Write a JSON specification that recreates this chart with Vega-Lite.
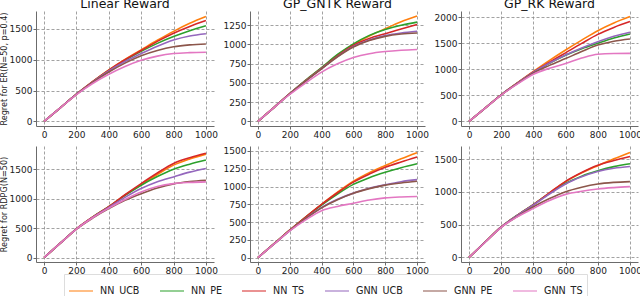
{
"$schema":"https://vega.github.io/schema/vega-lite/v6.json",
"padding":{"left":0,"top":-3,"right":0,"bottom":0},
"background":"white",
"config":{
 "font":"DejaVu Sans",
 "view":{"stroke":null},
 "axis":{"domainColor":"#6b6b6b","tickColor":"#6b6b6b","tickSize":3,"gridColor":"#8a8a8a","gridDash":[3,2],"gridWidth":0.8,"labelFont":"DejaVu Sans","labelFontSize":9,"labelColor":"#222222","titleFont":"DejaVu Sans","titleFontSize":10,"titleFontWeight":"normal","titleColor":"#222222","labelPadding":1,"format":"d"},
 "axisY":{"titleFontSize":8.1,"titlePadding":1},
 "title":{"font":"DejaVu Sans","fontSize":12.5,"fontWeight":"normal","color":"#111111","offset":1},
 "legend":{"labelFont":"DejaVu Sans","labelFontSize":9.6,"labelColor":"#222222"}
},
"data":{"values":[
{"panel":"L_ER","algo":"NN_UCB","t":0,"regret":0},{"panel":"L_ER","algo":"NN_UCB","t":100,"regret":220},{"panel":"L_ER","algo":"NN_UCB","t":200,"regret":440},{"panel":"L_ER","algo":"NN_UCB","t":300,"regret":645},{"panel":"L_ER","algo":"NN_UCB","t":400,"regret":835},{"panel":"L_ER","algo":"NN_UCB","t":500,"regret":1005},{"panel":"L_ER","algo":"NN_UCB","t":600,"regret":1160},{"panel":"L_ER","algo":"NN_UCB","t":700,"regret":1315},{"panel":"L_ER","algo":"NN_UCB","t":800,"regret":1460},{"panel":"L_ER","algo":"NN_UCB","t":900,"regret":1590},{"panel":"L_ER","algo":"NN_UCB","t":1000,"regret":1700},
{"panel":"L_ER","algo":"NN_PE","t":0,"regret":0},{"panel":"L_ER","algo":"NN_PE","t":100,"regret":220},{"panel":"L_ER","algo":"NN_PE","t":200,"regret":440},{"panel":"L_ER","algo":"NN_PE","t":300,"regret":642},{"panel":"L_ER","algo":"NN_PE","t":400,"regret":828},{"panel":"L_ER","algo":"NN_PE","t":500,"regret":990},{"panel":"L_ER","algo":"NN_PE","t":600,"regret":1135},{"panel":"L_ER","algo":"NN_PE","t":700,"regret":1265},{"panel":"L_ER","algo":"NN_PE","t":800,"regret":1375},{"panel":"L_ER","algo":"NN_PE","t":900,"regret":1470},{"panel":"L_ER","algo":"NN_PE","t":1000,"regret":1550},
{"panel":"L_ER","algo":"NN_TS","t":0,"regret":0},{"panel":"L_ER","algo":"NN_TS","t":100,"regret":220},{"panel":"L_ER","algo":"NN_TS","t":200,"regret":440},{"panel":"L_ER","algo":"NN_TS","t":300,"regret":644},{"panel":"L_ER","algo":"NN_TS","t":400,"regret":832},{"panel":"L_ER","algo":"NN_TS","t":500,"regret":1000},{"panel":"L_ER","algo":"NN_TS","t":600,"regret":1150},{"panel":"L_ER","algo":"NN_TS","t":700,"regret":1298},{"panel":"L_ER","algo":"NN_TS","t":800,"regret":1430},{"panel":"L_ER","algo":"NN_TS","t":900,"regret":1540},{"panel":"L_ER","algo":"NN_TS","t":1000,"regret":1635},
{"panel":"L_ER","algo":"GNN_UCB","t":0,"regret":0},{"panel":"L_ER","algo":"GNN_UCB","t":100,"regret":220},{"panel":"L_ER","algo":"GNN_UCB","t":200,"regret":440},{"panel":"L_ER","algo":"GNN_UCB","t":300,"regret":638},{"panel":"L_ER","algo":"GNN_UCB","t":400,"regret":818},{"panel":"L_ER","algo":"GNN_UCB","t":500,"regret":970},{"panel":"L_ER","algo":"GNN_UCB","t":600,"regret":1100},{"panel":"L_ER","algo":"GNN_UCB","t":700,"regret":1220},{"panel":"L_ER","algo":"GNN_UCB","t":800,"regret":1320},{"panel":"L_ER","algo":"GNN_UCB","t":900,"regret":1385},{"panel":"L_ER","algo":"GNN_UCB","t":1000,"regret":1422},
{"panel":"L_ER","algo":"GNN_PE","t":0,"regret":0},{"panel":"L_ER","algo":"GNN_PE","t":100,"regret":220},{"panel":"L_ER","algo":"GNN_PE","t":200,"regret":438},{"panel":"L_ER","algo":"GNN_PE","t":300,"regret":630},{"panel":"L_ER","algo":"GNN_PE","t":400,"regret":800},{"panel":"L_ER","algo":"GNN_PE","t":500,"regret":945},{"panel":"L_ER","algo":"GNN_PE","t":600,"regret":1065},{"panel":"L_ER","algo":"GNN_PE","t":700,"regret":1150},{"panel":"L_ER","algo":"GNN_PE","t":800,"regret":1210},{"panel":"L_ER","algo":"GNN_PE","t":900,"regret":1240},{"panel":"L_ER","algo":"GNN_PE","t":1000,"regret":1255},
{"panel":"L_ER","algo":"GNN_TS","t":0,"regret":0},{"panel":"L_ER","algo":"GNN_TS","t":100,"regret":220},{"panel":"L_ER","algo":"GNN_TS","t":200,"regret":435},{"panel":"L_ER","algo":"GNN_TS","t":300,"regret":615},{"panel":"L_ER","algo":"GNN_TS","t":400,"regret":765},{"panel":"L_ER","algo":"GNN_TS","t":500,"regret":890},{"panel":"L_ER","algo":"GNN_TS","t":600,"regret":990},{"panel":"L_ER","algo":"GNN_TS","t":700,"regret":1058},{"panel":"L_ER","algo":"GNN_TS","t":800,"regret":1100},{"panel":"L_ER","algo":"GNN_TS","t":900,"regret":1115},{"panel":"L_ER","algo":"GNN_TS","t":1000,"regret":1120},

{"panel":"G_ER","algo":"NN_UCB","t":0,"regret":0},{"panel":"G_ER","algo":"NN_UCB","t":100,"regret":180},{"panel":"G_ER","algo":"NN_UCB","t":200,"regret":360},{"panel":"G_ER","algo":"NN_UCB","t":300,"regret":530},{"panel":"G_ER","algo":"NN_UCB","t":400,"regret":695},{"panel":"G_ER","algo":"NN_UCB","t":500,"regret":860},{"panel":"G_ER","algo":"NN_UCB","t":600,"regret":1000},{"panel":"G_ER","algo":"NN_UCB","t":700,"regret":1110},{"panel":"G_ER","algo":"NN_UCB","t":800,"regret":1205},{"panel":"G_ER","algo":"NN_UCB","t":900,"regret":1295},{"panel":"G_ER","algo":"NN_UCB","t":1000,"regret":1370},
{"panel":"G_ER","algo":"NN_PE","t":0,"regret":0},{"panel":"G_ER","algo":"NN_PE","t":100,"regret":180},{"panel":"G_ER","algo":"NN_PE","t":200,"regret":360},{"panel":"G_ER","algo":"NN_PE","t":300,"regret":535},{"panel":"G_ER","algo":"NN_PE","t":400,"regret":700},{"panel":"G_ER","algo":"NN_PE","t":500,"regret":870},{"panel":"G_ER","algo":"NN_PE","t":600,"regret":1008},{"panel":"G_ER","algo":"NN_PE","t":700,"regret":1118},{"panel":"G_ER","algo":"NN_PE","t":800,"regret":1195},{"panel":"G_ER","algo":"NN_PE","t":900,"regret":1250},{"panel":"G_ER","algo":"NN_PE","t":1000,"regret":1290},
{"panel":"G_ER","algo":"NN_TS","t":0,"regret":0},{"panel":"G_ER","algo":"NN_TS","t":100,"regret":180},{"panel":"G_ER","algo":"NN_TS","t":200,"regret":360},{"panel":"G_ER","algo":"NN_TS","t":300,"regret":530},{"panel":"G_ER","algo":"NN_TS","t":400,"regret":690},{"panel":"G_ER","algo":"NN_TS","t":500,"regret":852},{"panel":"G_ER","algo":"NN_TS","t":600,"regret":988},{"panel":"G_ER","algo":"NN_TS","t":700,"regret":1078},{"panel":"G_ER","algo":"NN_TS","t":800,"regret":1140},{"panel":"G_ER","algo":"NN_TS","t":900,"regret":1200},{"panel":"G_ER","algo":"NN_TS","t":1000,"regret":1260},
{"panel":"G_ER","algo":"GNN_UCB","t":0,"regret":0},{"panel":"G_ER","algo":"GNN_UCB","t":100,"regret":180},{"panel":"G_ER","algo":"GNN_UCB","t":200,"regret":358},{"panel":"G_ER","algo":"GNN_UCB","t":300,"regret":525},{"panel":"G_ER","algo":"GNN_UCB","t":400,"regret":685},{"panel":"G_ER","algo":"GNN_UCB","t":500,"regret":843},{"panel":"G_ER","algo":"GNN_UCB","t":600,"regret":975},{"panel":"G_ER","algo":"GNN_UCB","t":700,"regret":1058},{"panel":"G_ER","algo":"GNN_UCB","t":800,"regret":1115},{"panel":"G_ER","algo":"GNN_UCB","t":900,"regret":1150},{"panel":"G_ER","algo":"GNN_UCB","t":1000,"regret":1172},
{"panel":"G_ER","algo":"GNN_PE","t":0,"regret":0},{"panel":"G_ER","algo":"GNN_PE","t":100,"regret":180},{"panel":"G_ER","algo":"GNN_PE","t":200,"regret":358},{"panel":"G_ER","algo":"GNN_PE","t":300,"regret":525},{"panel":"G_ER","algo":"GNN_PE","t":400,"regret":683},{"panel":"G_ER","algo":"GNN_PE","t":500,"regret":840},{"panel":"G_ER","algo":"GNN_PE","t":600,"regret":968},{"panel":"G_ER","algo":"GNN_PE","t":700,"regret":1052},{"panel":"G_ER","algo":"GNN_PE","t":800,"regret":1105},{"panel":"G_ER","algo":"GNN_PE","t":900,"regret":1135},{"panel":"G_ER","algo":"GNN_PE","t":1000,"regret":1150},
{"panel":"G_ER","algo":"GNN_TS","t":0,"regret":0},{"panel":"G_ER","algo":"GNN_TS","t":100,"regret":178},{"panel":"G_ER","algo":"GNN_TS","t":200,"regret":350},{"panel":"G_ER","algo":"GNN_TS","t":300,"regret":500},{"panel":"G_ER","algo":"GNN_TS","t":400,"regret":640},{"panel":"G_ER","algo":"GNN_TS","t":500,"regret":748},{"panel":"G_ER","algo":"GNN_TS","t":600,"regret":830},{"panel":"G_ER","algo":"GNN_TS","t":700,"regret":880},{"panel":"G_ER","algo":"GNN_TS","t":800,"regret":908},{"panel":"G_ER","algo":"GNN_TS","t":900,"regret":925},{"panel":"G_ER","algo":"GNN_TS","t":1000,"regret":935},

{"panel":"R_ER","algo":"NN_UCB","t":0,"regret":0},{"panel":"R_ER","algo":"NN_UCB","t":100,"regret":255},{"panel":"R_ER","algo":"NN_UCB","t":200,"regret":510},{"panel":"R_ER","algo":"NN_UCB","t":300,"regret":738},{"panel":"R_ER","algo":"NN_UCB","t":400,"regret":958},{"panel":"R_ER","algo":"NN_UCB","t":500,"regret":1170},{"panel":"R_ER","algo":"NN_UCB","t":600,"regret":1370},{"panel":"R_ER","algo":"NN_UCB","t":700,"regret":1560},{"panel":"R_ER","algo":"NN_UCB","t":800,"regret":1742},{"panel":"R_ER","algo":"NN_UCB","t":900,"regret":1890},{"panel":"R_ER","algo":"NN_UCB","t":1000,"regret":2013},
{"panel":"R_ER","algo":"NN_PE","t":0,"regret":0},{"panel":"R_ER","algo":"NN_PE","t":100,"regret":255},{"panel":"R_ER","algo":"NN_PE","t":200,"regret":510},{"panel":"R_ER","algo":"NN_PE","t":300,"regret":732},{"panel":"R_ER","algo":"NN_PE","t":400,"regret":940},{"panel":"R_ER","algo":"NN_PE","t":500,"regret":1115},{"panel":"R_ER","algo":"NN_PE","t":600,"regret":1268},{"panel":"R_ER","algo":"NN_PE","t":700,"regret":1395},{"panel":"R_ER","algo":"NN_PE","t":800,"regret":1500},{"panel":"R_ER","algo":"NN_PE","t":900,"regret":1600},{"panel":"R_ER","algo":"NN_PE","t":1000,"regret":1678},
{"panel":"R_ER","algo":"NN_TS","t":0,"regret":0},{"panel":"R_ER","algo":"NN_TS","t":100,"regret":255},{"panel":"R_ER","algo":"NN_TS","t":200,"regret":510},{"panel":"R_ER","algo":"NN_TS","t":300,"regret":736},{"panel":"R_ER","algo":"NN_TS","t":400,"regret":950},{"panel":"R_ER","algo":"NN_TS","t":500,"regret":1135},{"panel":"R_ER","algo":"NN_TS","t":600,"regret":1316},{"panel":"R_ER","algo":"NN_TS","t":700,"regret":1497},{"panel":"R_ER","algo":"NN_TS","t":800,"regret":1671},{"panel":"R_ER","algo":"NN_TS","t":900,"regret":1805},{"panel":"R_ER","algo":"NN_TS","t":1000,"regret":1916},
{"panel":"R_ER","algo":"GNN_UCB","t":0,"regret":0},{"panel":"R_ER","algo":"GNN_UCB","t":100,"regret":255},{"panel":"R_ER","algo":"GNN_UCB","t":200,"regret":510},{"panel":"R_ER","algo":"GNN_UCB","t":300,"regret":732},{"panel":"R_ER","algo":"GNN_UCB","t":400,"regret":942},{"panel":"R_ER","algo":"GNN_UCB","t":500,"regret":1120},{"panel":"R_ER","algo":"GNN_UCB","t":600,"regret":1275},{"panel":"R_ER","algo":"GNN_UCB","t":700,"regret":1410},{"panel":"R_ER","algo":"GNN_UCB","t":800,"regret":1530},{"panel":"R_ER","algo":"GNN_UCB","t":900,"regret":1635},{"panel":"R_ER","algo":"GNN_UCB","t":1000,"regret":1712},
{"panel":"R_ER","algo":"GNN_PE","t":0,"regret":0},{"panel":"R_ER","algo":"GNN_PE","t":100,"regret":255},{"panel":"R_ER","algo":"GNN_PE","t":200,"regret":508},{"panel":"R_ER","algo":"GNN_PE","t":300,"regret":725},{"panel":"R_ER","algo":"GNN_PE","t":400,"regret":930},{"panel":"R_ER","algo":"GNN_PE","t":500,"regret":1075},{"panel":"R_ER","algo":"GNN_PE","t":600,"regret":1206},{"panel":"R_ER","algo":"GNN_PE","t":700,"regret":1340},{"panel":"R_ER","algo":"GNN_PE","t":800,"regret":1465},{"panel":"R_ER","algo":"GNN_PE","t":900,"regret":1540},{"panel":"R_ER","algo":"GNN_PE","t":1000,"regret":1582},
{"panel":"R_ER","algo":"GNN_TS","t":0,"regret":0},{"panel":"R_ER","algo":"GNN_TS","t":100,"regret":253},{"panel":"R_ER","algo":"GNN_TS","t":200,"regret":505},{"panel":"R_ER","algo":"GNN_TS","t":300,"regret":715},{"panel":"R_ER","algo":"GNN_TS","t":400,"regret":905},{"panel":"R_ER","algo":"GNN_TS","t":500,"regret":1020},{"panel":"R_ER","algo":"GNN_TS","t":600,"regret":1110},{"panel":"R_ER","algo":"GNN_TS","t":700,"regret":1215},{"panel":"R_ER","algo":"GNN_TS","t":800,"regret":1290},{"panel":"R_ER","algo":"GNN_TS","t":900,"regret":1303},{"panel":"R_ER","algo":"GNN_TS","t":1000,"regret":1305},

{"panel":"L_RD","algo":"NN_UCB","t":0,"regret":0},{"panel":"L_RD","algo":"NN_UCB","t":100,"regret":245},{"panel":"L_RD","algo":"NN_UCB","t":200,"regret":490},{"panel":"L_RD","algo":"NN_UCB","t":300,"regret":690},{"panel":"L_RD","algo":"NN_UCB","t":400,"regret":866},{"panel":"L_RD","algo":"NN_UCB","t":500,"regret":1062},{"panel":"L_RD","algo":"NN_UCB","t":600,"regret":1243},{"panel":"L_RD","algo":"NN_UCB","t":700,"regret":1415},{"panel":"L_RD","algo":"NN_UCB","t":800,"regret":1574},{"panel":"L_RD","algo":"NN_UCB","t":900,"regret":1680},{"panel":"L_RD","algo":"NN_UCB","t":1000,"regret":1762},
{"panel":"L_RD","algo":"NN_PE","t":0,"regret":0},{"panel":"L_RD","algo":"NN_PE","t":100,"regret":245},{"panel":"L_RD","algo":"NN_PE","t":200,"regret":490},{"panel":"L_RD","algo":"NN_PE","t":300,"regret":690},{"panel":"L_RD","algo":"NN_PE","t":400,"regret":866},{"panel":"L_RD","algo":"NN_PE","t":500,"regret":1058},{"panel":"L_RD","algo":"NN_PE","t":600,"regret":1232},{"panel":"L_RD","algo":"NN_PE","t":700,"regret":1380},{"panel":"L_RD","algo":"NN_PE","t":800,"regret":1505},{"panel":"L_RD","algo":"NN_PE","t":900,"regret":1590},{"panel":"L_RD","algo":"NN_PE","t":1000,"regret":1660},
{"panel":"L_RD","algo":"NN_TS","t":0,"regret":0},{"panel":"L_RD","algo":"NN_TS","t":100,"regret":245},{"panel":"L_RD","algo":"NN_TS","t":200,"regret":490},{"panel":"L_RD","algo":"NN_TS","t":300,"regret":690},{"panel":"L_RD","algo":"NN_TS","t":400,"regret":868},{"panel":"L_RD","algo":"NN_TS","t":500,"regret":1070},{"panel":"L_RD","algo":"NN_TS","t":600,"regret":1260},{"panel":"L_RD","algo":"NN_TS","t":700,"regret":1440},{"panel":"L_RD","algo":"NN_TS","t":800,"regret":1603},{"panel":"L_RD","algo":"NN_TS","t":900,"regret":1700},{"panel":"L_RD","algo":"NN_TS","t":1000,"regret":1775},
{"panel":"L_RD","algo":"GNN_UCB","t":0,"regret":0},{"panel":"L_RD","algo":"GNN_UCB","t":100,"regret":245},{"panel":"L_RD","algo":"GNN_UCB","t":200,"regret":490},{"panel":"L_RD","algo":"GNN_UCB","t":300,"regret":685},{"panel":"L_RD","algo":"GNN_UCB","t":400,"regret":855},{"panel":"L_RD","algo":"GNN_UCB","t":500,"regret":1025},{"panel":"L_RD","algo":"GNN_UCB","t":600,"regret":1175},{"panel":"L_RD","algo":"GNN_UCB","t":700,"regret":1290},{"panel":"L_RD","algo":"GNN_UCB","t":800,"regret":1374},{"panel":"L_RD","algo":"GNN_UCB","t":900,"regret":1455},{"panel":"L_RD","algo":"GNN_UCB","t":1000,"regret":1517},
{"panel":"L_RD","algo":"GNN_PE","t":0,"regret":0},{"panel":"L_RD","algo":"GNN_PE","t":100,"regret":245},{"panel":"L_RD","algo":"GNN_PE","t":200,"regret":485},{"panel":"L_RD","algo":"GNN_PE","t":300,"regret":672},{"panel":"L_RD","algo":"GNN_PE","t":400,"regret":833},{"panel":"L_RD","algo":"GNN_PE","t":500,"regret":975},{"panel":"L_RD","algo":"GNN_PE","t":600,"regret":1089},{"panel":"L_RD","algo":"GNN_PE","t":700,"regret":1185},{"panel":"L_RD","algo":"GNN_PE","t":800,"regret":1255},{"panel":"L_RD","algo":"GNN_PE","t":900,"regret":1295},{"panel":"L_RD","algo":"GNN_PE","t":1000,"regret":1317},
{"panel":"L_RD","algo":"GNN_TS","t":0,"regret":0},{"panel":"L_RD","algo":"GNN_TS","t":100,"regret":245},{"panel":"L_RD","algo":"GNN_TS","t":200,"regret":486},{"panel":"L_RD","algo":"GNN_TS","t":300,"regret":678},{"panel":"L_RD","algo":"GNN_TS","t":400,"regret":842},{"panel":"L_RD","algo":"GNN_TS","t":500,"regret":990},{"panel":"L_RD","algo":"GNN_TS","t":600,"regret":1118},{"panel":"L_RD","algo":"GNN_TS","t":700,"regret":1210},{"panel":"L_RD","algo":"GNN_TS","t":800,"regret":1260},{"panel":"L_RD","algo":"GNN_TS","t":900,"regret":1280},{"panel":"L_RD","algo":"GNN_TS","t":1000,"regret":1289},

{"panel":"G_RD","algo":"NN_UCB","t":0,"regret":0},{"panel":"G_RD","algo":"NN_UCB","t":100,"regret":192},{"panel":"G_RD","algo":"NN_UCB","t":200,"regret":385},{"panel":"G_RD","algo":"NN_UCB","t":300,"regret":570},{"panel":"G_RD","algo":"NN_UCB","t":400,"regret":750},{"panel":"G_RD","algo":"NN_UCB","t":500,"regret":920},{"panel":"G_RD","algo":"NN_UCB","t":600,"regret":1075},{"panel":"G_RD","algo":"NN_UCB","t":700,"regret":1195},{"panel":"G_RD","algo":"NN_UCB","t":800,"regret":1295},{"panel":"G_RD","algo":"NN_UCB","t":900,"regret":1390},{"panel":"G_RD","algo":"NN_UCB","t":1000,"regret":1476},
{"panel":"G_RD","algo":"NN_PE","t":0,"regret":0},{"panel":"G_RD","algo":"NN_PE","t":100,"regret":192},{"panel":"G_RD","algo":"NN_PE","t":200,"regret":385},{"panel":"G_RD","algo":"NN_PE","t":300,"regret":568},{"panel":"G_RD","algo":"NN_PE","t":400,"regret":740},{"panel":"G_RD","algo":"NN_PE","t":500,"regret":895},{"panel":"G_RD","algo":"NN_PE","t":600,"regret":1030},{"panel":"G_RD","algo":"NN_PE","t":700,"regret":1125},{"panel":"G_RD","algo":"NN_PE","t":800,"regret":1200},{"panel":"G_RD","algo":"NN_PE","t":900,"regret":1265},{"panel":"G_RD","algo":"NN_PE","t":1000,"regret":1320},
{"panel":"G_RD","algo":"NN_TS","t":0,"regret":0},{"panel":"G_RD","algo":"NN_TS","t":100,"regret":192},{"panel":"G_RD","algo":"NN_TS","t":200,"regret":385},{"panel":"G_RD","algo":"NN_TS","t":300,"regret":570},{"panel":"G_RD","algo":"NN_TS","t":400,"regret":748},{"panel":"G_RD","algo":"NN_TS","t":500,"regret":912},{"panel":"G_RD","algo":"NN_TS","t":600,"regret":1062},{"panel":"G_RD","algo":"NN_TS","t":700,"regret":1175},{"panel":"G_RD","algo":"NN_TS","t":800,"regret":1270},{"panel":"G_RD","algo":"NN_TS","t":900,"regret":1345},{"panel":"G_RD","algo":"NN_TS","t":1000,"regret":1415},
{"panel":"G_RD","algo":"GNN_UCB","t":0,"regret":0},{"panel":"G_RD","algo":"GNN_UCB","t":100,"regret":190},{"panel":"G_RD","algo":"GNN_UCB","t":200,"regret":380},{"panel":"G_RD","algo":"GNN_UCB","t":300,"regret":552},{"panel":"G_RD","algo":"GNN_UCB","t":400,"regret":705},{"panel":"G_RD","algo":"GNN_UCB","t":500,"regret":820},{"panel":"G_RD","algo":"GNN_UCB","t":600,"regret":907},{"panel":"G_RD","algo":"GNN_UCB","t":700,"regret":975},{"panel":"G_RD","algo":"GNN_UCB","t":800,"regret":1025},{"panel":"G_RD","algo":"GNN_UCB","t":900,"regret":1068},{"panel":"G_RD","algo":"GNN_UCB","t":1000,"regret":1097},
{"panel":"G_RD","algo":"GNN_PE","t":0,"regret":0},{"panel":"G_RD","algo":"GNN_PE","t":100,"regret":190},{"panel":"G_RD","algo":"GNN_PE","t":200,"regret":380},{"panel":"G_RD","algo":"GNN_PE","t":300,"regret":550},{"panel":"G_RD","algo":"GNN_PE","t":400,"regret":700},{"panel":"G_RD","algo":"GNN_PE","t":500,"regret":815},{"panel":"G_RD","algo":"GNN_PE","t":600,"regret":905},{"panel":"G_RD","algo":"GNN_PE","t":700,"regret":970},{"panel":"G_RD","algo":"GNN_PE","t":800,"regret":1020},{"panel":"G_RD","algo":"GNN_PE","t":900,"regret":1050},{"panel":"G_RD","algo":"GNN_PE","t":1000,"regret":1073},
{"panel":"G_RD","algo":"GNN_TS","t":0,"regret":0},{"panel":"G_RD","algo":"GNN_TS","t":100,"regret":188},{"panel":"G_RD","algo":"GNN_TS","t":200,"regret":375},{"panel":"G_RD","algo":"GNN_TS","t":300,"regret":530},{"panel":"G_RD","algo":"GNN_TS","t":400,"regret":660},{"panel":"G_RD","algo":"GNN_TS","t":500,"regret":720},{"panel":"G_RD","algo":"GNN_TS","t":600,"regret":764},{"panel":"G_RD","algo":"GNN_TS","t":700,"regret":810},{"panel":"G_RD","algo":"GNN_TS","t":800,"regret":840},{"panel":"G_RD","algo":"GNN_TS","t":900,"regret":853},{"panel":"G_RD","algo":"GNN_TS","t":1000,"regret":859},

{"panel":"R_RD","algo":"NN_UCB","t":0,"regret":0},{"panel":"R_RD","algo":"NN_UCB","t":100,"regret":235},{"panel":"R_RD","algo":"NN_UCB","t":200,"regret":466},{"panel":"R_RD","algo":"NN_UCB","t":300,"regret":640},{"panel":"R_RD","algo":"NN_UCB","t":400,"regret":805},{"panel":"R_RD","algo":"NN_UCB","t":500,"regret":985},{"panel":"R_RD","algo":"NN_UCB","t":600,"regret":1157},{"panel":"R_RD","algo":"NN_UCB","t":700,"regret":1290},{"panel":"R_RD","algo":"NN_UCB","t":800,"regret":1400},{"panel":"R_RD","algo":"NN_UCB","t":900,"regret":1505},{"panel":"R_RD","algo":"NN_UCB","t":1000,"regret":1602},
{"panel":"R_RD","algo":"NN_PE","t":0,"regret":0},{"panel":"R_RD","algo":"NN_PE","t":100,"regret":235},{"panel":"R_RD","algo":"NN_PE","t":200,"regret":466},{"panel":"R_RD","algo":"NN_PE","t":300,"regret":645},{"panel":"R_RD","algo":"NN_PE","t":400,"regret":808},{"panel":"R_RD","algo":"NN_PE","t":500,"regret":978},{"panel":"R_RD","algo":"NN_PE","t":600,"regret":1131},{"panel":"R_RD","algo":"NN_PE","t":700,"regret":1240},{"panel":"R_RD","algo":"NN_PE","t":800,"regret":1321},{"panel":"R_RD","algo":"NN_PE","t":900,"regret":1385},{"panel":"R_RD","algo":"NN_PE","t":1000,"regret":1428},
{"panel":"R_RD","algo":"NN_TS","t":0,"regret":0},{"panel":"R_RD","algo":"NN_TS","t":100,"regret":235},{"panel":"R_RD","algo":"NN_TS","t":200,"regret":466},{"panel":"R_RD","algo":"NN_TS","t":300,"regret":640},{"panel":"R_RD","algo":"NN_TS","t":400,"regret":805},{"panel":"R_RD","algo":"NN_TS","t":500,"regret":985},{"panel":"R_RD","algo":"NN_TS","t":600,"regret":1160},{"panel":"R_RD","algo":"NN_TS","t":700,"regret":1295},{"panel":"R_RD","algo":"NN_TS","t":800,"regret":1405},{"panel":"R_RD","algo":"NN_TS","t":900,"regret":1478},{"panel":"R_RD","algo":"NN_TS","t":1000,"regret":1541},
{"panel":"R_RD","algo":"GNN_UCB","t":0,"regret":0},{"panel":"R_RD","algo":"GNN_UCB","t":100,"regret":235},{"panel":"R_RD","algo":"GNN_UCB","t":200,"regret":466},{"panel":"R_RD","algo":"GNN_UCB","t":300,"regret":640},{"panel":"R_RD","algo":"GNN_UCB","t":400,"regret":800},{"panel":"R_RD","algo":"GNN_UCB","t":500,"regret":968},{"panel":"R_RD","algo":"GNN_UCB","t":600,"regret":1121},{"panel":"R_RD","algo":"GNN_UCB","t":700,"regret":1230},{"panel":"R_RD","algo":"GNN_UCB","t":800,"regret":1311},{"panel":"R_RD","algo":"GNN_UCB","t":900,"regret":1360},{"panel":"R_RD","algo":"GNN_UCB","t":1000,"regret":1387},
{"panel":"R_RD","algo":"GNN_PE","t":0,"regret":0},{"panel":"R_RD","algo":"GNN_PE","t":100,"regret":232},{"panel":"R_RD","algo":"GNN_PE","t":200,"regret":460},{"panel":"R_RD","algo":"GNN_PE","t":300,"regret":625},{"panel":"R_RD","algo":"GNN_PE","t":400,"regret":772},{"panel":"R_RD","algo":"GNN_PE","t":500,"regret":898},{"panel":"R_RD","algo":"GNN_PE","t":600,"regret":1003},{"panel":"R_RD","algo":"GNN_PE","t":700,"regret":1072},{"panel":"R_RD","algo":"GNN_PE","t":800,"regret":1121},{"panel":"R_RD","algo":"GNN_PE","t":900,"regret":1145},{"panel":"R_RD","algo":"GNN_PE","t":1000,"regret":1157},
{"panel":"R_RD","algo":"GNN_TS","t":0,"regret":0},{"panel":"R_RD","algo":"GNN_TS","t":100,"regret":232},{"panel":"R_RD","algo":"GNN_TS","t":200,"regret":460},{"panel":"R_RD","algo":"GNN_TS","t":300,"regret":620},{"panel":"R_RD","algo":"GNN_TS","t":400,"regret":748},{"panel":"R_RD","algo":"GNN_TS","t":500,"regret":868},{"panel":"R_RD","algo":"GNN_TS","t":600,"regret":962},{"panel":"R_RD","algo":"GNN_TS","t":700,"regret":1010},{"panel":"R_RD","algo":"GNN_TS","t":800,"regret":1044},{"panel":"R_RD","algo":"GNN_TS","t":900,"regret":1065},{"panel":"R_RD","algo":"GNN_TS","t":1000,"regret":1080}
]},
"spacing":7,
"vconcat":[
 {"bounds":"flush","spacing":36,"hconcat":[
  {"width":178,"height":115,"title":"Linear Reward",
   "transform":[{"filter":{"field":"panel","equal":"L_ER"}}],
   "mark":{"type":"line","strokeWidth":1.6,"interpolate":"monotone"},
   "encoding":{
    "x":{"field":"t","type":"quantitative","scale":{"domain":[-50,1050],"nice":false,"zero":false},"axis":{"values":[0,200,400,600,800,1000],"title":null}},
    "y":{"field":"regret","type":"quantitative","scale":{"domain":[-75,1790],"nice":false,"zero":false},"axis":{"values":[0,500,1000,1500],"title":"Regret for ER(N=50, p=0.4)"}},
    "color":{"field":"algo","type":"nominal","scale":{"domain":["NN_UCB","NN_PE","NN_TS","GNN_UCB","GNN_PE","GNN_TS"],"range":["#ff7f0e","#2ca02c","#d62728","#9467bd","#8c564b","#e377c2"]},
     "legend":{"title":null,"orient":"none","legendX":28,"legendY":263,"direction":"horizontal","columns":6,"gridAlign":"none","symbolType":"stroke","symbolSize":576,"symbolStrokeWidth":2,"symbolOpacity":0.5,"labelOffset":6,"columnPadding":16,"strokeColor":"#dddddd","fillColor":"white","padding":4}}
   }},
  {"width":175,"height":115,"title":"GP_GNTK Reward",
   "transform":[{"filter":{"field":"panel","equal":"G_ER"}}],
   "mark":{"type":"line","strokeWidth":1.6,"interpolate":"monotone"},
   "encoding":{
    "x":{"field":"t","type":"quantitative","scale":{"domain":[-50,1050],"nice":false,"zero":false},"axis":{"values":[0,200,400,600,800,1000],"title":null}},
    "y":{"field":"regret","type":"quantitative","scale":{"domain":[-60,1435],"nice":false,"zero":false},"axis":{"values":[0,250,500,750,1000,1250],"title":null}},
    "color":{"field":"algo","type":"nominal","legend":null}
   }},
  {"width":177,"height":115,"title":"GP_RK Reward",
   "transform":[{"filter":{"field":"panel","equal":"R_ER"}}],
   "mark":{"type":"line","strokeWidth":1.6,"interpolate":"monotone"},
   "encoding":{
    "x":{"field":"t","type":"quantitative","scale":{"domain":[-50,1050],"nice":false,"zero":false},"axis":{"values":[0,200,400,600,800,1000],"title":null}},
    "y":{"field":"regret","type":"quantitative","scale":{"domain":[-90,2120],"nice":false,"zero":false},"axis":{"values":[0,500,1000,1500,2000],"title":null}},
    "color":{"field":"algo","type":"nominal","legend":null}
   }}
 ]},
 {"bounds":"flush","spacing":36,"hconcat":[
  {"width":178,"height":116,
   "transform":[{"filter":{"field":"panel","equal":"L_RD"}}],
   "mark":{"type":"line","strokeWidth":1.6,"interpolate":"monotone"},
   "encoding":{
    "x":{"field":"t","type":"quantitative","scale":{"domain":[-50,1050],"nice":false,"zero":false},"axis":{"values":[0,200,400,600,800,1000],"title":"Decision Time","titlePadding":0}},
    "y":{"field":"regret","type":"quantitative","scale":{"domain":[-75,1900],"nice":false,"zero":false},"axis":{"values":[0,500,1000,1500],"title":"Regret for RDPG(N=50)"}},
    "color":{"field":"algo","type":"nominal","legend":null}
   }},
  {"width":175,"height":116,
   "transform":[{"filter":{"field":"panel","equal":"G_RD"}}],
   "mark":{"type":"line","strokeWidth":1.6,"interpolate":"monotone"},
   "encoding":{
    "x":{"field":"t","type":"quantitative","scale":{"domain":[-50,1050],"nice":false,"zero":false},"axis":{"values":[0,200,400,600,800,1000],"title":"Decision Time","titlePadding":0}},
    "y":{"field":"regret","type":"quantitative","scale":{"domain":[-62,1570],"nice":false,"zero":false},"axis":{"values":[0,250,500,750,1000,1250,1500],"title":null}},
    "color":{"field":"algo","type":"nominal","legend":null}
   }},
  {"width":177,"height":116,
   "transform":[{"filter":{"field":"panel","equal":"R_RD"}}],
   "mark":{"type":"line","strokeWidth":1.6,"interpolate":"monotone"},
   "encoding":{
    "x":{"field":"t","type":"quantitative","scale":{"domain":[-50,1050],"nice":false,"zero":false},"axis":{"values":[0,200,400,600,800,1000],"title":"Decision Time","titlePadding":0}},
    "y":{"field":"regret","type":"quantitative","scale":{"domain":[-70,1700],"nice":false,"zero":false},"axis":{"values":[0,500,1000,1500],"title":null}},
    "color":{"field":"algo","type":"nominal","legend":null}
   }}
 ]}
]
}
